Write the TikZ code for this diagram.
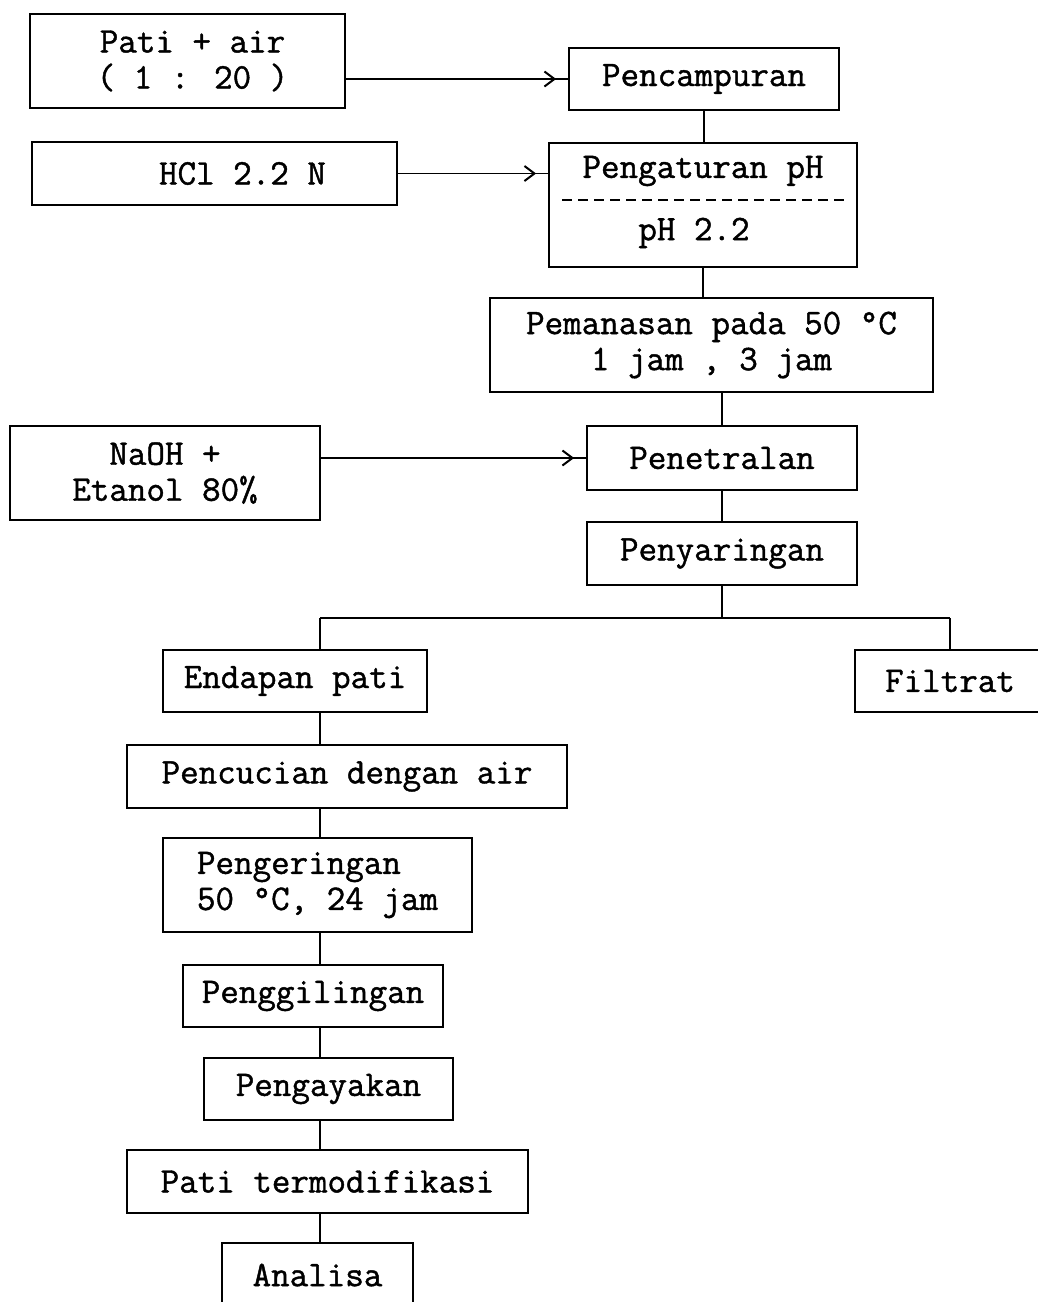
\documentclass[tikz,border=0pt]{standalone}
\usepackage{fontspec}
\newfontfamily\flowfont[AutoFakeBold=1.2]{Latin Modern Mono}
\usetikzlibrary{positioning,arrows.meta,decorations.markings}

\begin{document}
\begin{tikzpicture}[x=1pt,y=-1pt,
  proc/.style={draw=black,line width=1.8pt,inner sep=2pt,align=center,
    font=\fontsize{36}{36}\flowfont\bfseries},
  txt/.style={inner sep=0pt,font=\fontsize{36}{36}\flowfont\bfseries},
  link/.style={line width=1.8pt},
  feed/.style={line width=1.8pt,postaction={decorate},
    decoration={markings,mark=at position -12pt with
      {\arrow{Straight Barb[length=10pt,width=15pt,line width=2pt]}}}}]
  \useasboundingbox (0,0) rectangle (1038,1302);
  \clip (0,0) rectangle (1038,1302);
  \node[proc,minimum width=315,minimum height=94] (pati) at (187.5,61) {\hspace*{10pt}Pati + air\\\hspace*{10pt}( 1 : 20 )};
  \node[proc,minimum width=365,minimum height=63] (hcl) at (214.5,173.5) {\hspace*{56pt}HCl 2.2 N};
  \node[proc,minimum width=270,minimum height=62] (mix) at (704,79) {Pencampuran};
  \node[proc,minimum width=308,minimum height=124] (ph) at (703,205) {};
  \node[txt] (phA) at (703,171) {Pengaturan pH};
  \node[txt] (phB) at (694,233) {pH 2.2};
  \node[proc,minimum width=443,minimum height=94] (heat) at (711.5,345) {Pemanasan pada 50 °C\\1 jam , 3 jam};
  \node[proc,minimum width=310,minimum height=94] (naoh) at (165,473) {NaOH +\\Etanol 80\%};
  \node[proc,minimum width=270,minimum height=64] (neut) at (722,458) {Penetralan};
  \node[proc,minimum width=270,minimum height=63] (filt) at (722,553.5) {Penyaringan};
  \node[proc,minimum width=264,minimum height=62] (endap) at (295,681) {Endapan pati};
  \node[proc,minimum width=190,minimum height=62] (filtrat) at (950,681) {Filtrat};
  \node[proc,minimum width=440,minimum height=63] (wash) at (347,776.5) {Pencucian dengan air};
  \node[proc,minimum width=309,minimum height=94,align=left] (dry) at (317.5,885) {Pengeringan\\50 °C, 24 jam};
  \node[proc,minimum width=260,minimum height=62] (grind) at (313,996) {Penggilingan};
  \node[proc,minimum width=249,minimum height=62] (sieve) at (328.5,1089) {Pengayakan};
  \node[proc,minimum width=401,minimum height=63] (mod) at (327.5,1181.5) {Pati termodifikasi};
  \node[proc,minimum width=191,minimum height=64] (anal) at (317.5,1275) {Analisa};
  \coordinate (split) at (722,618);
  \coordinate (spine) at (320,618);
  \coordinate (right) at (950,618);
  % dashed divider
  \draw[line width=1.5pt,dash pattern=on 10pt off 6pt] ([xshift=14pt,yshift=5pt]ph.west) -- ([xshift=-12pt,yshift=5pt]ph.east);
  % feeds
  \draw[feed] (pati.east |- mix.west) -- (mix.west);
  \draw[feed] (hcl.east) -- (hcl.east -| ph.west);
  \draw[feed] (naoh.east |- neut.west) -- (neut.west);
  % main line
  \draw[link] (mix.south) -- (mix.south |- ph.north);
  \draw[link] (ph.south) -- (ph.south |- heat.north);
  \draw[link] (heat.south -| neut) -- (neut.north);
  \draw[link] (neut.south) -- (filt.north);
  \draw[link] (filt.south) -- (split);
  \draw[link] (spine) -- (right);
  \draw[link] (spine) -- (spine |- endap.north);
  \draw[link] (right) -- (filtrat.north);
  \draw[link] (endap.south -| spine) -- (wash.north -| spine);
  \draw[link] (wash.south -| spine) -- (dry.north -| spine);
  \draw[link] (dry.south -| spine) -- (grind.north -| spine);
  \draw[link] (grind.south -| spine) -- (sieve.north -| spine);
  \draw[link] (sieve.south -| spine) -- (mod.north -| spine);
  \draw[link] (mod.south -| spine) -- (anal.north -| spine);
\end{tikzpicture}
\end{document}
